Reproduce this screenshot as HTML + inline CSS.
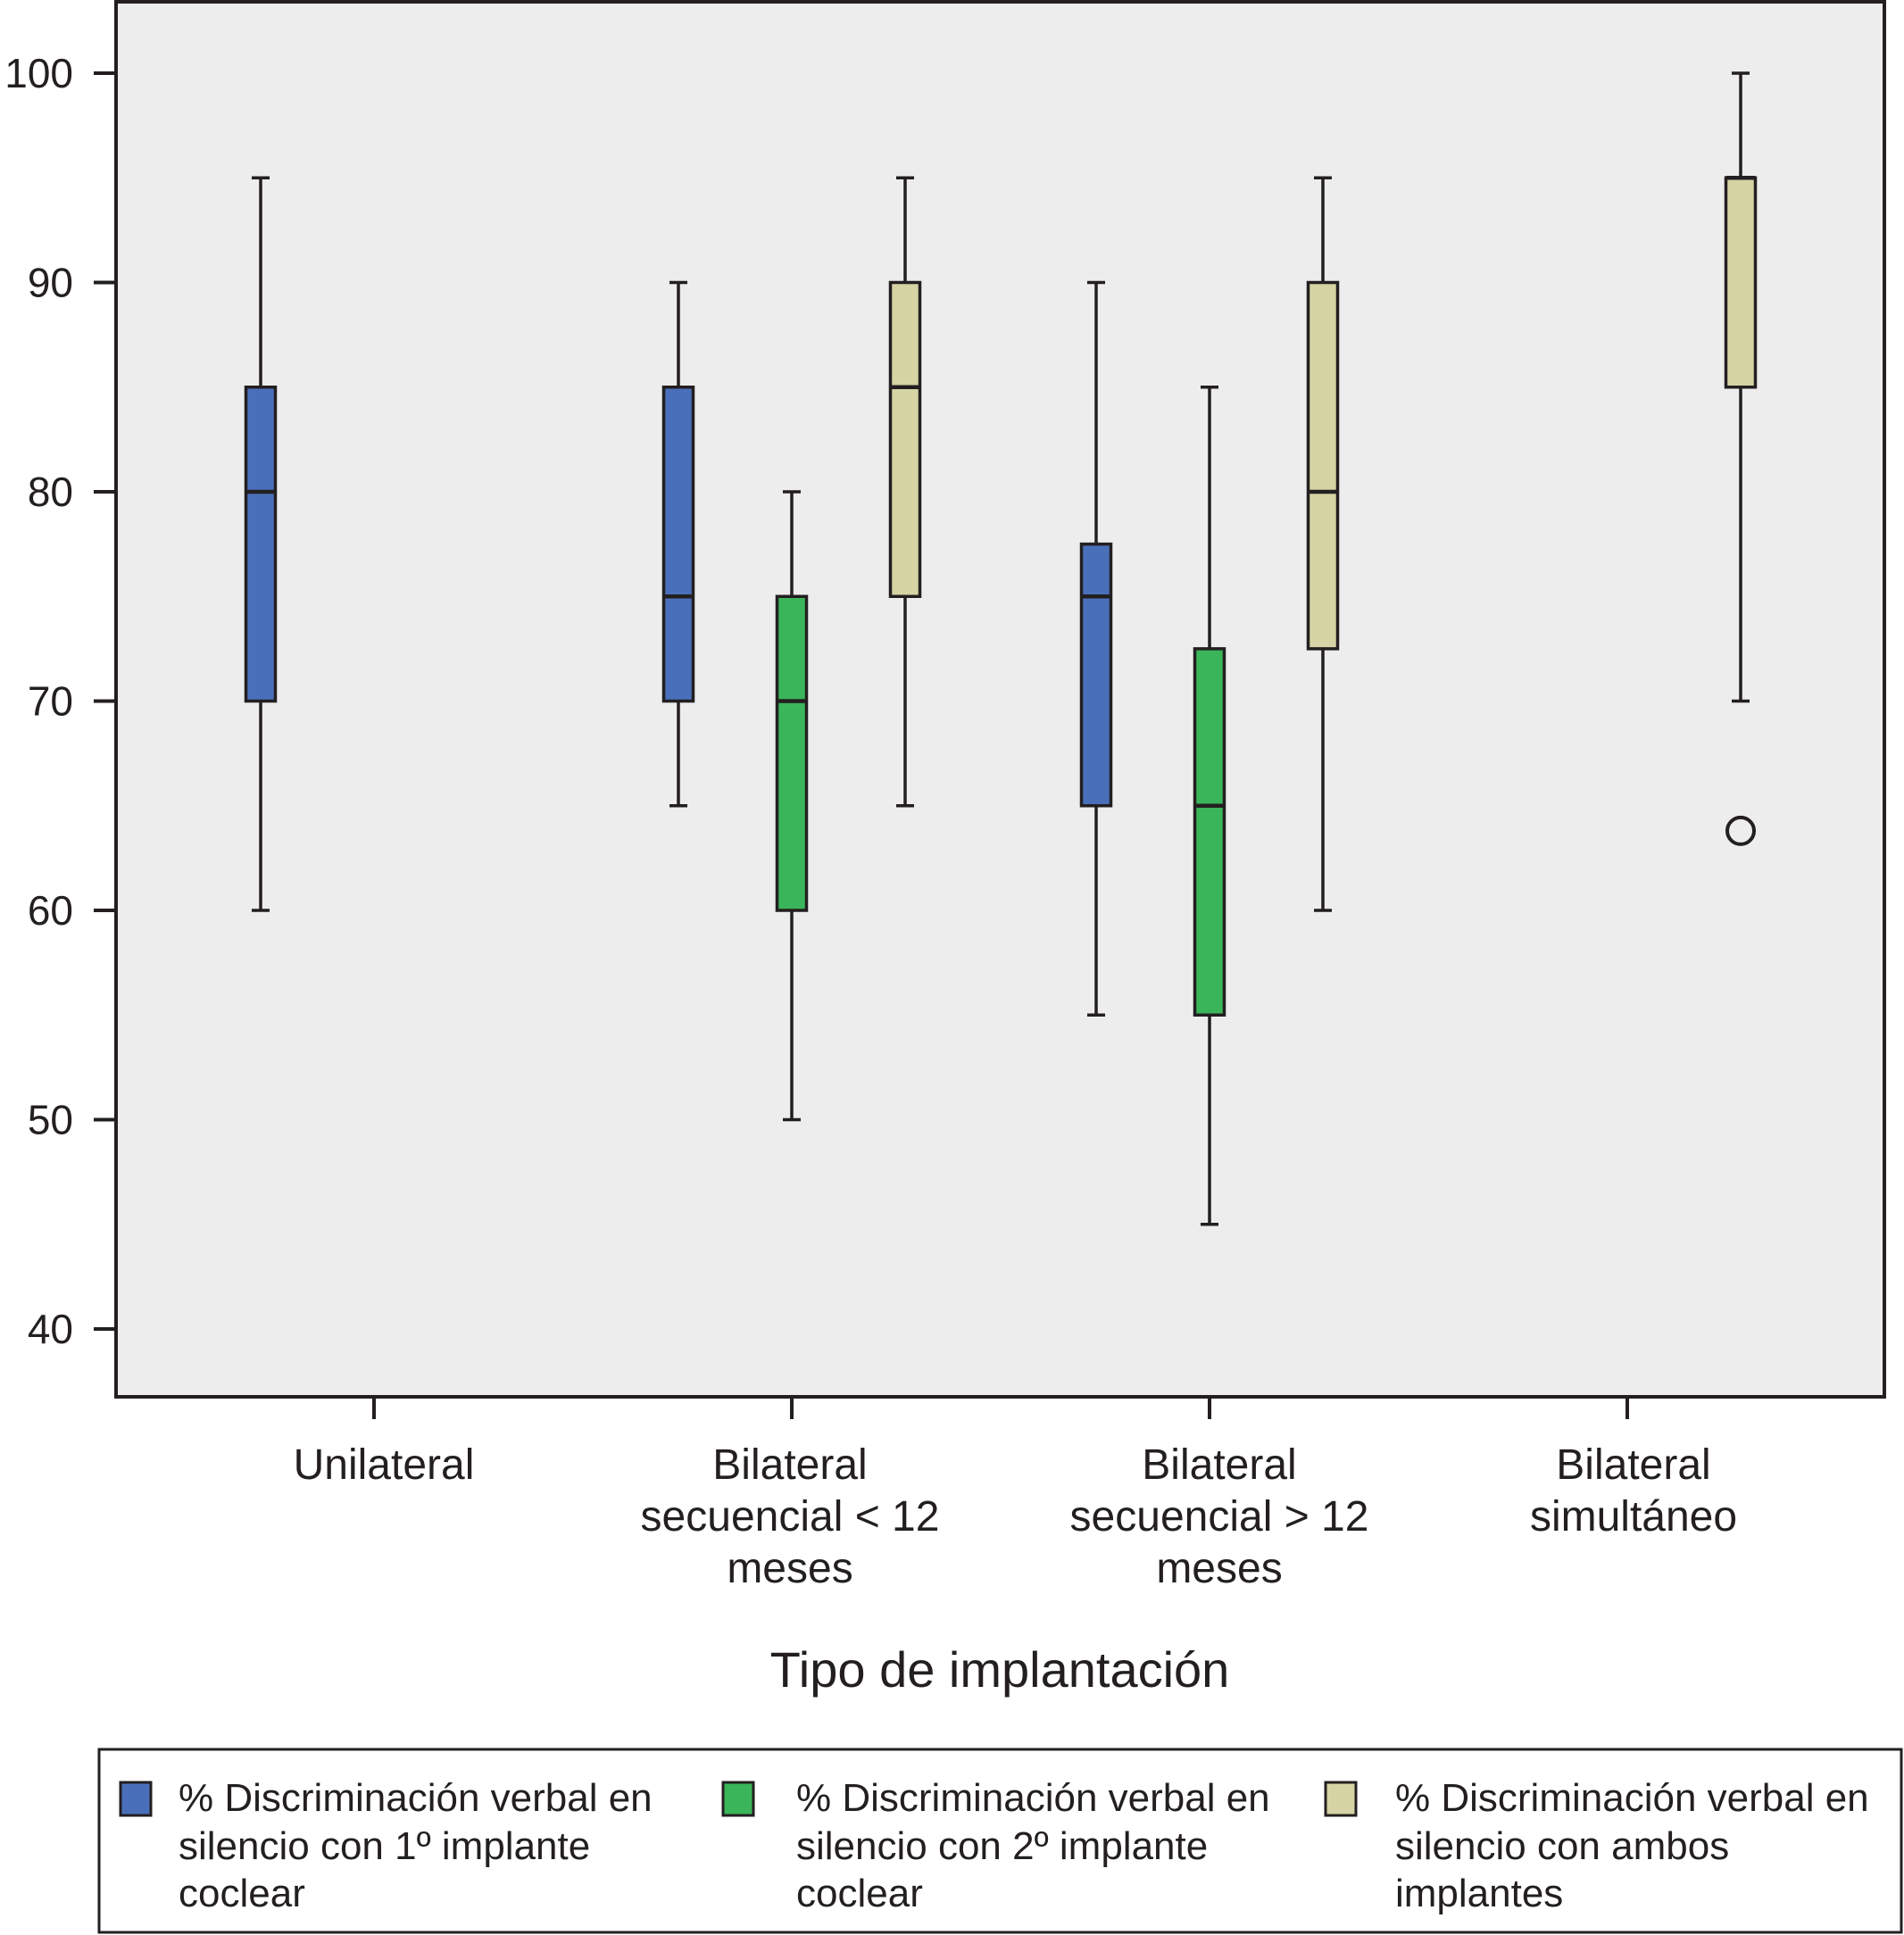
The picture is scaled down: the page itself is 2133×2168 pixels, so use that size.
<!DOCTYPE html>
<html><head><meta charset="utf-8"><style>
html,body{margin:0;padding:0;background:#fff;}
svg{display:block;font-family:"Liberation Sans",sans-serif;}
</style></head><body>
<svg id="chart" width="2133" height="2168" viewBox="0 0 2133 2168" xmlns="http://www.w3.org/2000/svg">
<rect x="130" y="2" width="1981" height="1563" fill="#ededed" stroke="#231f20" stroke-width="4"/>
<g id="marks"></g>
<g id="axes"></g>
<text x="1120" y="1890" font-size="56" text-anchor="middle" fill="#231f20">Tipo de implantación</text>
<rect x="111" y="1960" width="2019" height="205" fill="#fff" stroke="#231f20" stroke-width="3"/>
<rect x="135" y="1997" width="34" height="37" fill="#4a6fba" stroke="#231f20" stroke-width="3"/>
<text font-size="44" fill="#231f20"><tspan x="200" y="2029">% Discriminación verbal en</tspan><tspan x="200" y="2083">silencio con 1º implante</tspan><tspan x="200" y="2136">coclear</tspan></text>
<rect x="810" y="1997" width="34" height="37" fill="#3bb55a" stroke="#231f20" stroke-width="3"/>
<text font-size="44" fill="#231f20"><tspan x="892" y="2029">% Discriminación verbal en</tspan><tspan x="892" y="2083">silencio con 2º implante</tspan><tspan x="892" y="2136">coclear</tspan></text>
<rect x="1485" y="1997" width="34" height="37" fill="#d6d3a4" stroke="#231f20" stroke-width="3"/>
<text font-size="44" fill="#231f20"><tspan x="1563" y="2029">% Discriminación verbal en</tspan><tspan x="1563" y="2083">silencio con ambos</tspan><tspan x="1563" y="2136">implantes</tspan></text>
</svg>
<script>
const categories = [["Unilateral"],["Bilateral","secuencial < 12","meses"],["Bilateral","secuencial > 12","meses"],["Bilateral","simultáneo"]];
const yTicks = [40,50,60,70,80,90,100];
// each box: [categoryIndex, seriesIndex, min, q1, median, q3, max]
const boxes = [
 [0,0,60,70,80,85,95],
 [1,0,65,70,75,85,90],
 [1,1,50,60,70,75,80],
 [1,2,65,75,85,90,95],
 [2,0,55,65,75,77.5,90],
 [2,1,45,55,65,72.5,85],
 [2,2,60,72.5,80,90,95],
 [3,2,70,85,95,95,100]
];
const outliers = [[3,2,63.8]];
const seriesColors = ["#4a6fba","#3bb55a","#d6d3a4"];
const seriesNames = ["first-implant","second-implant","both-implants"];

const NS="http://www.w3.org/2000/svg";
const labelOffsets=[11,-2,11,7];
function y(v){return 82+(100-v)*(1489-82)/60;}
function xc(i){return 419+i*468;}
function xs(i,s){return xc(i)+(s-1)*127;}
function mk(tag,attrs,parent){const e=document.createElementNS(NS,tag);for(const k in attrs)e.setAttribute(k,attrs[k]);parent.appendChild(e);return e;}
const marks=document.getElementById('marks'), axes=document.getElementById('axes');
const stroke="#231f20";
yTicks.forEach(t=>{
 const l=mk('line',{x1:105,x2:130,y1:y(t),y2:y(t),stroke:stroke,'stroke-width':4},axes);
 
 
 const tx=mk('text',{x:82,y:y(t)+16,'font-size':46,'text-anchor':'end',fill:stroke},axes);
 tx.textContent=t;
 
 
});
categories.forEach((c,i)=>{
 const l=mk('line',{x1:xc(i),x2:xc(i),y1:1565,y2:1590,stroke:stroke,'stroke-width':4},axes);
 
 
 const tx=mk('text',{'font-size':48,'text-anchor':'middle',fill:stroke},axes);
 
 
 c.forEach((line,j)=>{const ts=mk('tspan',{x:xc(i)+labelOffsets[i],y:1657+j*58},tx);ts.textContent=line;});
});
boxes.forEach(b=>{
 const [ci,s,mn,q1,md,q3,mx]=b, x=xs(ci,s), w=33, cap=20;
 const g=mk('g',{},marks);
 
 
 mk('line',{x1:x,x2:x,y1:y(mx),y2:y(q3),stroke:stroke,'stroke-width':3.5},g);
 mk('line',{x1:x,x2:x,y1:y(q1),y2:y(mn),stroke:stroke,'stroke-width':3.5},g);
 mk('line',{x1:x-cap/2,x2:x+cap/2,y1:y(mx),y2:y(mx),stroke:stroke,'stroke-width':3.5},g);
 mk('line',{x1:x-cap/2,x2:x+cap/2,y1:y(mn),y2:y(mn),stroke:stroke,'stroke-width':3.5},g);
 mk('rect',{x:x-w/2,y:y(q3),width:w,height:y(q1)-y(q3),fill:seriesColors[s],stroke:stroke,'stroke-width':3.5},g);
 mk('line',{x1:x-w/2,x2:x+w/2,y1:y(md),y2:y(md),stroke:stroke,'stroke-width':4.5},g);
});
outliers.forEach(o=>{
 const c=mk('circle',{cx:xs(o[0],o[1]),cy:y(o[2]),r:15,fill:'none',stroke:stroke,'stroke-width':4},marks);
 
 
});
</script>
</body></html>
